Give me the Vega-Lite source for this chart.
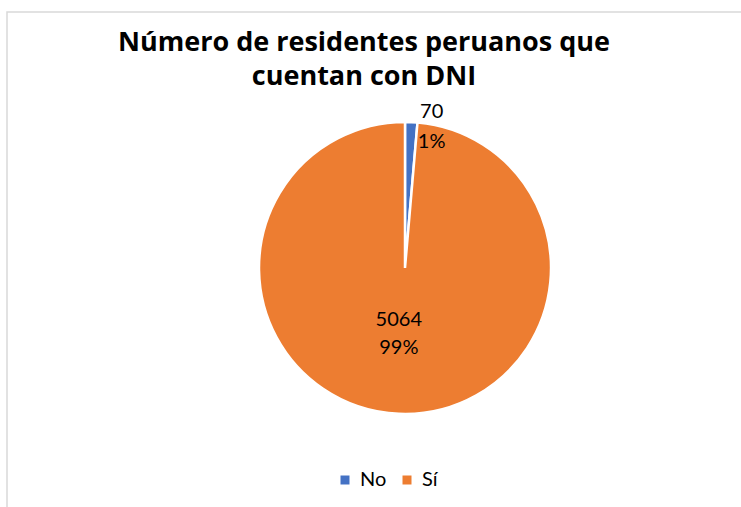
{
  "$schema": "https://vega.github.io/schema/vega-lite/v6.json",
  "autosize": {"type": "none"},
  "padding": {"left": 7, "top": 12, "right": 0, "bottom": 0},
  "width": 796,
  "height": 512,
  "background": "white",
  "view": {"stroke": "#d9d9d9", "strokeWidth": 1.5},
  "config": {
    "font": "Lato"
  },
  "title": {
    "text": ["Número de residentes peruanos que", "cuentan con DNI"],
    "font": "Open Sans",
    "fontSize": 27,
    "fontWeight": "bold",
    "color": "#000000",
    "lineHeight": 34,
    "anchor": "middle",
    "dx": -41,
    "offset": -79
  },
  "data": {
    "values": [
      {"respuesta": "No", "cantidad": 70, "porcentaje": 0.01},
      {"respuesta": "Sí", "cantidad": 5064, "porcentaje": 0.99}
    ]
  },
  "encoding": {
    "theta": {"field": "cantidad", "type": "quantitative", "stack": true},
    "order": {"field": "respuesta", "type": "nominal", "sort": "ascending"}
  },
  "layer": [
    {
      "mark": {"type": "arc", "outerRadius": 146, "stroke": "white", "strokeWidth": 2.5},
      "encoding": {
        "color": {
          "field": "respuesta",
          "type": "nominal",
          "scale": {"domain": ["No", "Sí"], "range": ["#4472C4", "#ED7D31"]},
          "legend": {
            "title": null,
            "orient": "none",
            "direction": "horizontal",
            "legendX": 328,
            "legendY": 458,
            "symbolType": "square",
            "symbolSize": 81,
            "symbolStrokeWidth": 0,
            "labelFont": "Lato",
            "labelFontSize": 20,
            "labelColor": "#000000",
            "labelOffset": 5,
            "columnPadding": 10
          }
        }
      }
    },
    {
      "transform": [{"filter": "datum.respuesta == 'No'"}],
      "mark": {"type": "text", "radius": 143, "dx": 20.5, "dy": -13, "fontSize": 20, "font": "Lato", "color": "#000000", "baseline": "middle"},
      "encoding": {"text": {"field": "cantidad", "type": "quantitative", "format": "d"}}
    },
    {
      "transform": [{"filter": "datum.respuesta == 'No'"}],
      "mark": {"type": "text", "radius": 143, "dx": 20.5, "dy": 17, "fontSize": 20, "font": "Lato", "color": "#000000", "baseline": "middle"},
      "encoding": {"text": {"field": "porcentaje", "type": "quantitative", "format": ".0%"}}
    },
    {
      "transform": [{"filter": "datum.respuesta == 'Sí'"}],
      "mark": {"type": "text", "radius": 66, "dx": -9, "dy": -14, "fontSize": 20, "font": "Lato", "color": "#000000", "baseline": "middle"},
      "encoding": {"text": {"field": "cantidad", "type": "quantitative", "format": "d"}}
    },
    {
      "transform": [{"filter": "datum.respuesta == 'Sí'"}],
      "mark": {"type": "text", "radius": 66, "dx": -9, "dy": 14, "fontSize": 20, "font": "Lato", "color": "#000000", "baseline": "middle"},
      "encoding": {"text": {"field": "porcentaje", "type": "quantitative", "format": ".0%"}}
    }
  ]
}
